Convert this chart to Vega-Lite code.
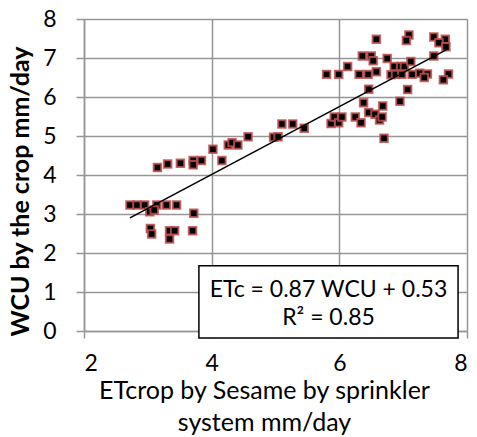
{
  "$schema": "https://vega.github.io/schema/vega-lite/v6.json",
  "width": 383,
  "height": 312,
  "autosize": "none",
  "padding": {"left": 84, "top": 19, "right": 10, "bottom": 106},
  "background": "white",
  "config": {"view": {"stroke": null}, "font": "Lato"},
  "datasets": {
    "pts": [
      {"x": 2.72, "y": 3.23}, {"x": 2.83, "y": 3.23}, {"x": 2.95, "y": 3.23}, {"x": 3.14, "y": 3.23},
      {"x": 3.29, "y": 3.23}, {"x": 3.45, "y": 3.23}, {"x": 3.03, "y": 3.06}, {"x": 3.10, "y": 3.10},
      {"x": 3.72, "y": 3.02}, {"x": 3.04, "y": 2.63}, {"x": 3.06, "y": 2.49}, {"x": 3.34, "y": 2.57},
      {"x": 3.42, "y": 2.57}, {"x": 3.34, "y": 2.36}, {"x": 3.70, "y": 2.57},
      {"x": 3.15, "y": 4.19}, {"x": 3.31, "y": 4.28}, {"x": 3.51, "y": 4.30}, {"x": 3.71, "y": 4.37},
      {"x": 3.71, "y": 4.26}, {"x": 3.84, "y": 4.37}, {"x": 4.02, "y": 4.66}, {"x": 4.16, "y": 4.37},
      {"x": 4.26, "y": 4.77}, {"x": 4.32, "y": 4.83}, {"x": 4.41, "y": 4.77}, {"x": 4.57, "y": 4.98},
      {"x": 4.97, "y": 4.97}, {"x": 5.04, "y": 4.98}, {"x": 5.10, "y": 5.31}, {"x": 5.27, "y": 5.31},
      {"x": 5.45, "y": 5.20},
      {"x": 5.87, "y": 5.32}, {"x": 5.92, "y": 5.49}, {"x": 5.99, "y": 5.34}, {"x": 6.04, "y": 5.49},
      {"x": 6.25, "y": 5.49}, {"x": 6.34, "y": 5.34}, {"x": 6.38, "y": 5.85}, {"x": 6.46, "y": 5.60},
      {"x": 6.56, "y": 5.56}, {"x": 6.63, "y": 5.41}, {"x": 6.67, "y": 5.49}, {"x": 6.68, "y": 5.77},
      {"x": 6.95, "y": 5.89}, {"x": 6.70, "y": 4.94}, {"x": 6.46, "y": 6.20}, {"x": 7.07, "y": 6.19},
      {"x": 5.80, "y": 6.58}, {"x": 5.99, "y": 6.58}, {"x": 6.13, "y": 6.78}, {"x": 6.31, "y": 6.58},
      {"x": 6.45, "y": 6.58}, {"x": 6.58, "y": 6.65}, {"x": 6.36, "y": 7.05}, {"x": 6.50, "y": 7.05},
      {"x": 6.53, "y": 6.93}, {"x": 6.58, "y": 7.48}, {"x": 6.75, "y": 6.99}, {"x": 6.86, "y": 6.78},
      {"x": 6.96, "y": 6.78}, {"x": 7.02, "y": 6.78}, {"x": 6.81, "y": 6.57}, {"x": 6.88, "y": 6.58},
      {"x": 6.98, "y": 6.58}, {"x": 7.14, "y": 6.58}, {"x": 7.26, "y": 6.61}, {"x": 7.38, "y": 6.59},
      {"x": 7.33, "y": 6.50}, {"x": 7.12, "y": 6.91}, {"x": 7.09, "y": 7.59}, {"x": 7.05, "y": 7.45},
      {"x": 7.48, "y": 7.54}, {"x": 7.66, "y": 7.48}, {"x": 7.56, "y": 7.39}, {"x": 7.67, "y": 7.29},
      {"x": 7.48, "y": 7.05}, {"x": 7.71, "y": 6.59}, {"x": 7.63, "y": 6.44}
    ],
    "trend": [{"x": 2.72, "y": 2.90}, {"x": 7.71, "y": 7.24}],
    "box": [{"x": 3.80, "x2": 7.86, "y": 1.67, "y2": -0.18}],
    "labels": [
      {"x": 5.83, "y": 1.05, "t": "ETc = 0.87 WCU + 0.53"},
      {"x": 5.83, "y": 0.33, "t": "R² = 0.85"}
    ]
  },
  "encoding": {
    "x": {
      "field": "x", "type": "quantitative",
      "scale": {"domain": [2, 8], "nice": false, "zero": false},
      "axis": {
        "values": [2, 4, 6, 8], "format": "d", "grid": true, "gridColor": "#969696", "gridWidth": 1.5, "gridOpacity": 1,
        "domainColor": "#969696", "domainWidth": 1.5, "tickColor": "#969696", "tickWidth": 1.5, "tickSize": 7,
        "labelFontSize": 23, "labelColor": "black", "labelPadding": 14, "labelFont": "Lato", "labelOverlap": false,
        "title": ["ETcrop by Sesame by sprinkler", "system mm/day"],
        "titleFontSize": 25, "titleFontWeight": "normal", "titleColor": "black", "titleFont": "Lato",
        "titleX": 180, "titleY": 67, "titleAlign": "center", "titleBaseline": "alphabetic", "titleLineHeight": 32
      }
    },
    "y": {
      "field": "y", "type": "quantitative",
      "scale": {"domain": [0, 8], "nice": false},
      "axis": {
        "values": [0, 1, 2, 3, 4, 5, 6, 7, 8], "format": "d", "grid": true, "gridColor": "#969696", "gridWidth": 1.5, "gridOpacity": 1,
        "domainColor": "#969696", "domainWidth": 1.5, "tickColor": "#969696", "tickWidth": 1.5, "tickSize": 8,
        "labelFontSize": 23, "labelColor": "black", "labelPadding": 20, "labelFont": "Lato", "labelOverlap": false,
        "title": "WCU by the crop mm/day", "titleFontSize": 25, "titleFontWeight": "bold", "titleColor": "black", "titleFont": "Lato",
        "titleX": -64, "titleY": 172, "titleAlign": "center", "titleBaseline": "middle", "titleAngle": -90
      }
    }
  },
  "layer": [
    {
      "data": {"name": "pts"},
      "mark": {"type": "point", "shape": "square", "filled": true, "size": 56, "color": "black", "stroke": "#c0504d", "strokeWidth": 2, "opacity": 1, "strokeOpacity": 0.85}
    },
    {
      "data": {"name": "trend"},
      "mark": {"type": "line", "color": "black", "strokeWidth": 1.6}
    },
    {
      "data": {"name": "box"},
      "mark": {"type": "rect", "fill": "white", "stroke": "black", "strokeWidth": 1.5},
      "encoding": {"x2": {"field": "x2"}, "y2": {"field": "y2"}}
    },
    {
      "data": {"name": "labels"},
      "mark": {"type": "text", "fontSize": 23, "font": "Lato", "color": "black", "align": "center", "baseline": "middle"},
      "encoding": {"text": {"field": "t"}}
    }
  ]
}
